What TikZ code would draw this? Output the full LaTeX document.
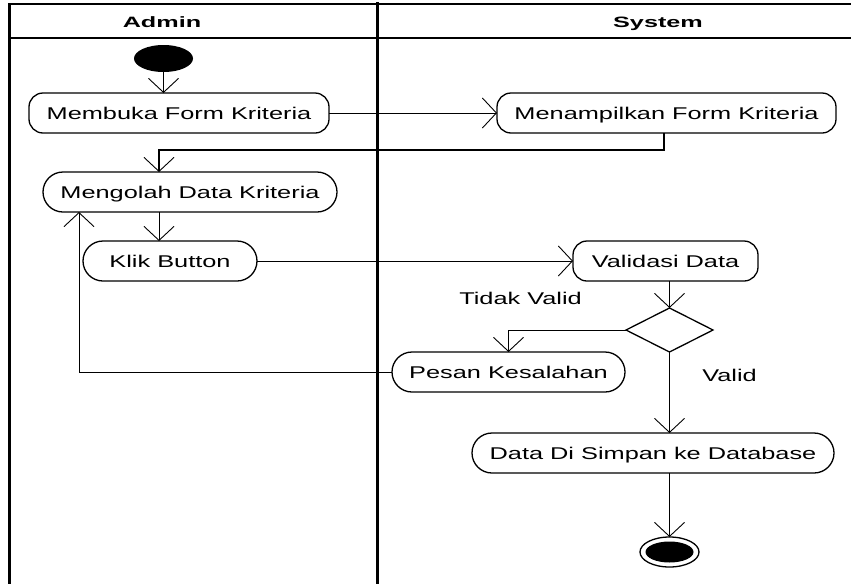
\documentclass[tikz,border=0pt]{standalone}
\usepackage{fontspec}
\setmainfont{Liberation Sans}[FakeStretch=1.49]
\newfontfamily\hdrfont{Liberation Sans Bold}[FakeStretch=1.68]
\usetikzlibrary{arrows.meta,shapes.geometric}
\begin{document}
\begin{tikzpicture}[x=1pt,y=-1pt,
  every node/.style={inner sep=0pt, outer sep=0pt},
  act/.style={draw, line width=1.3pt, rounded corners=14pt, minimum height=40pt,
    font=\fontsize{17pt}{20pt}\selectfont, text height=12.2pt, text depth=0pt},
  stad/.style={act, rounded corners=20pt},
  flow/.style={line width=0.9pt, -{Straight Barb[length=14pt,width=30pt,line width=0.9pt]}},
  lbl/.style={font=\fontsize{17pt}{20pt}\selectfont, text height=12.2pt, text depth=0pt},
  hdr/.style={font=\hdrfont\fontsize{15pt}{17pt}\selectfont, anchor=base},
  lane/.style={line width=2pt}
]
\useasboundingbox (0,0) rectangle (851,584);
% swimlanes
\draw[lane] (9.5,4) -- (851,4);
\draw[line width=1.4pt] (9.5,38) -- (851,38);
\draw[lane, line width=2.4pt] (9.5,3) -- (9.5,584);
\draw[lane, line width=2.4pt] (377.5,2) -- (377.5,584);
\node[hdr] (hadmin) at (162,27) {Admin};
\node[hdr] (hsys) at (658,27) {System};
% nodes
\node[ellipse, fill=black, minimum width=59pt, minimum height=27pt] (start) at (163.5,58.5) {};
\node[act, minimum width=300pt] (membuka) at (179,113) {Membuka Form Kriteria};
\node[act, minimum width=339pt] (menampilkan) at (666.5,113) {Menampilkan Form Kriteria};
\node[stad, minimum width=294pt] (mengolah) at (190,192) {Mengolah Data Kriteria};
\node[stad, minimum width=174pt] (klik) at (170,261) {Klik Button};
\node[act, minimum width=185pt] (validasi) at (665.5,261) {Validasi Data};
\node[diamond, draw, line width=1.3pt, minimum width=87pt, minimum height=44pt] (dec) at (669.5,330) {};
\node[stad, minimum width=233pt] (pesan) at (508.5,372) {Pesan Kesalahan};
\node[stad, minimum width=362pt] (simpan) at (653,453) {Data Di Simpan ke Database};
\node[ellipse, draw, line width=1.3pt, minimum width=59pt, minimum height=30pt] (end) at (669.5,552) {};
\node[ellipse, fill=black, minimum width=48pt, minimum height=21pt] (endin) at (669.5,552) {};
\node[lbl] (ltidak) at (520.5,298.5) {Tidak Valid};
\node[lbl] (lvalid) at (729.5,375.5) {Valid};
% helper columns
\coordinate (colA) at (159,0);
\coordinate (colB) at (79,0);
\coordinate (colC) at (664,0);
\coordinate (colS) at (163.5,0);
% connectors
\draw[flow] (start.south) -- (membuka.north -| colS);
\draw[flow] (membuka.east) -- (menampilkan.west);
\draw[flow, line width=1.6pt] (menampilkan.south -| colC) -- ++(0,17) -| (mengolah.north -| colA);
\draw[flow] (mengolah.south -| colA) -- (klik.north -| colA);
\draw[flow] (klik.east) -- (validasi.west);
\draw[flow] (validasi.south -| dec.north) -- (dec.north);
\draw[flow] (dec.west) -| (pesan.north);
\draw[flow] (dec.south) -- (simpan.north -| dec.south);
\draw[flow] (simpan.south -| end.north) -- (end.north);
\draw[flow] (pesan.west) -| (mengolah.south -| colB);
\end{tikzpicture}
\end{document}
